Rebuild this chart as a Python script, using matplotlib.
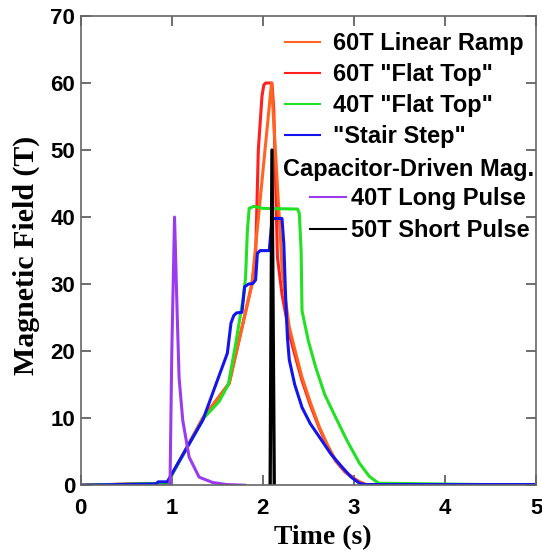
import numpy as np
import matplotlib.pyplot as plt
import matplotlib as mpl

mpl.rcParams["font.family"] = ["Liberation Sans", "DejaVu Sans"]
mpl.rcParams["font.weight"] = "bold"

# 60T linear ramp
t_ramp = [0, 0.95, 1.34, 1.63, 1.88, 2.095, 2.15, 2.18, 2.21, 2.25, 2.29, 2.35, 2.43, 2.52, 2.62,
          2.71, 2.80, 2.90, 3.00, 3.06, 3.13, 4.86]
b_ramp = [0, 0.3, 10, 15.2, 30, 60, 47, 40, 32.5, 27.5, 23.6, 20.3, 16.1, 12.4, 8.7,
          6.0, 3.7, 2.1, 1.0, 0.5, 0.1, 0]

# 60T "flat top"
t_flat60 = [0, 0.95, 1.34, 1.63, 1.88, 1.92, 1.95, 1.99, 2.01, 2.03, 2.10, 2.12, 2.16, 2.21, 2.25,
            2.29, 2.35, 2.43, 2.52, 2.62, 2.71, 2.80, 2.90, 3.00, 3.06, 3.13, 4.86]
b_flat60 = [0, 0.3, 10, 15.2, 30, 34, 50, 58, 59.7, 60, 60, 56, 34, 28.5, 25.5,
            22.6, 19.5, 15.6, 12.0, 8.5, 5.8, 3.6, 2.0, 1.0, 0.5, 0.1, 0]

# 40T "flat top"
t_flat40 = [0, 0.95, 1.35, 1.52, 1.62, 1.70, 1.78, 1.81, 1.83, 1.85, 1.90, 2.0, 2.38, 2.40, 2.42,
            2.43, 2.50, 2.58, 2.68, 2.80, 2.93, 3.06, 3.17, 3.27, 5.0]
b_flat40 = [0, 0.3, 10, 12.5, 15, 21, 27.6, 31, 38, 41.3, 41.6, 41.3, 41.2, 40.6, 35,
            26, 21.5, 17.6, 13.5, 10.1, 6.5, 3.3, 1.3, 0.3, 0]

# "stair step"
t_stair = [0, 0.83, 0.85, 0.95, 1.34, 1.61, 1.65, 1.68, 1.71, 1.77, 1.80, 1.84, 1.89, 1.92, 1.94, 1.97,
           2.07, 2.10, 2.13, 2.21, 2.23, 2.25, 2.27, 2.29, 2.35, 2.43, 2.52, 2.62, 2.75, 2.87,
           2.97, 3.06, 3.12, 4.98]
b_stair = [0, 0.2, 0.5, 0.5, 9.7, 19.7, 24.2, 25.3, 25.7, 25.8, 29.6, 30, 30.1, 30.6, 34.6, 35,
           35, 39.6, 39.8, 39.8, 36, 28, 22, 18.7, 15, 11.6, 9.2, 7.2, 4.6, 2.7,
           1.2, 0.3, 0.1, 0.1]

# capacitor-driven magnets
t_long = [0.98, 1.00, 1.03, 1.06, 1.08, 1.12, 1.19, 1.30, 1.45, 1.60, 1.80]
b_long = [0, 20, 40, 25, 16, 9.7, 4.2, 1.2, 0.4, 0.1, 0]

t_short = [2.08, 2.10, 2.125]
b_short = [0, 50, 0]

fig = plt.figure(figsize=(5.42, 5.52), dpi=100)
ax = fig.add_axes([0.149, 0.121, 0.840, 0.850])

l2, = ax.plot(t_flat60, b_flat60, color="#ff2020", lw=2.2, label='60T "Flat Top"')
l1, = ax.plot(t_ramp, b_ramp, color="#ff6420", lw=2.2, label="60T Linear Ramp")
l3, = ax.plot(t_flat40, b_flat40, color="#22e022", lw=2.2, label='40T "Flat Top"')
l4, = ax.plot(t_stair, b_stair, color="#1414ee", lw=2.2, label='"Stair Step"')
l5, = ax.plot(t_long, b_long, color="#9a3cee", lw=2.2, label="40T Long Pulse")
l6, = ax.plot(t_short, b_short, color="black", lw=2.4, label="50T Short Pulse")

ax.set_xlim(0, 5)
ax.set_ylim(0, 70)
ax.set_xticks(range(0, 6))
ax.set_yticks(range(0, 71, 10))
ax.tick_params(direction="in", length=7, width=1.2, color="#555555",
               top=True, right=True, labelsize=16)
ax.tick_params(axis="x", pad=9)
ax.tick_params(axis="y", pad=4)
for s in ax.spines.values():
    s.set_color("#666666")
    s.set_linewidth(1.2)

ax.set_xlabel("Time (s)", family="Liberation Serif", fontsize=20, fontweight="bold")
ax.xaxis.set_label_coords(0.532, -0.086)
ax.set_ylabel("Magnetic Field (T)", family="Liberation Serif", fontsize=21.5, fontweight="bold")
ax.yaxis.set_label_coords(-0.09, 0.49)

leg1 = ax.legend(handles=[l1, l2, l3, l4], loc="upper left", bbox_to_anchor=(0.448, 0.965),
                 frameon=False, prop={"size": 17, "weight": "bold"}, handlelength=1.48,
                 handletextpad=0.55, labelspacing=0.33, borderpad=0, borderaxespad=0)
for h in leg1.legend_handles:
    h.set_linewidth(1.5)
ax.add_artist(leg1)

ax.text(0.444, 0.672, "Capacitor-Driven Mag.", transform=ax.transAxes,
        fontsize=17, fontweight="bold", va="center", ha="left")
leg2 = ax.legend(handles=[l5, l6], loc="upper left", bbox_to_anchor=(0.503, 0.635),
                 frameon=False, prop={"size": 17, "weight": "bold"}, handlelength=1.53,
                 handletextpad=0.2, labelspacing=0.39, borderpad=0, borderaxespad=0)
for h in leg2.legend_handles:
    h.set_linewidth(1.5)

fig.savefig("out.png", dpi=100)
